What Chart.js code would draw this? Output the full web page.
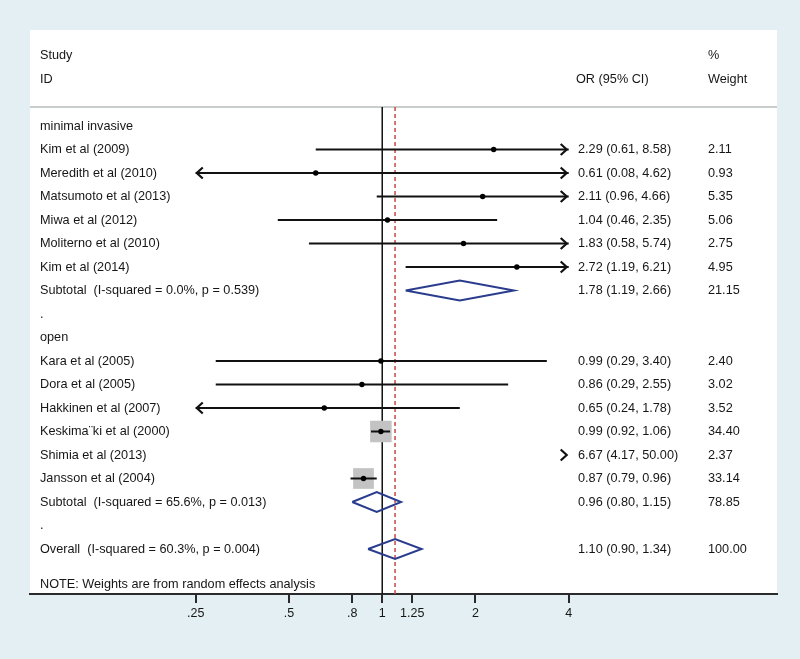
<!DOCTYPE html>
<html><head><meta charset="utf-8">
<script src="https://cdn.jsdelivr.net/npm/chart.js@4/dist/chart.umd.min.js"></script>
<style>html,body{margin:0;padding:0;background:#e3eff3;overflow:hidden}#wrap{width:800px;height:659px;position:relative}</style>
</head><body><div id="wrap"><canvas id="c" width="800" height="659"></canvas></div>
<script>
// ---------- data ----------
const rowLabels = [
  'minimal invasive',
  'Kim et al (2009)',
  'Meredith et al (2010)',
  'Matsumoto et al (2013)',
  'Miwa et al (2012)',
  'Moliterno et al (2010)',
  'Kim et al (2014)',
  'Subtotal  (I-squared = 0.0%, p = 0.539)',
  '.',
  'open',
  'Kara et al (2005)',
  'Dora et al (2005)',
  'Hakkinen et al (2007)',
  'Keskima\u00A8ki et al (2000)',
  'Shimia et al (2013)',
  'Jansson et al (2004)',
  'Subtotal  (I-squared = 65.6%, p = 0.013)',
  '.',
  'Overall  (I-squared = 60.3%, p = 0.004)'
];
const studyRows   = [1, 2, 3, 4, 5, 6, 10, 11, 12, 13, 14, 15];
const studyOR     = [2.29, 0.61, 2.11, 1.04, 1.83, 2.72, 0.99, 0.86, 0.65, 0.99, 6.67, 0.87];
const studyLo     = [0.61, 0.08, 0.96, 0.46, 0.58, 1.19, 0.29, 0.29, 0.24, 0.92, 4.17, 0.79];
const studyHi     = [8.58, 4.62, 4.66, 2.35, 5.74, 6.21, 3.40, 2.55, 1.78, 1.06, 50.00, 0.96];
const studyWeight = [2.11, 0.93, 5.35, 5.06, 2.75, 4.95, 2.40, 3.02, 3.52, 34.40, 2.37, 33.14];
const poolRows    = [7, 16, 18];
const poolOR      = [1.78, 0.96, 1.10];
const poolLo      = [1.19, 0.80, 0.90];
const poolHi      = [2.66, 1.15, 1.34];
const poolWeight  = [21.15, 78.85, 100.00];
const tickValues  = [0.25, 0.5, 0.8, 1, 1.25, 2, 4];
const tickLabels  = ['.25', '.5', '.8', '1', '1.25', '2', '4'];
const noteText    = 'NOTE: Weights are from random effects analysis';

// ---------- layout / style constants ----------
const X_MIN = 0.0729, X_MAX = 18.82;
const Y_MIN = -4.085, Y_MAX = 19.915;
const CI_LO = tickValues[0], CI_HI = tickValues[tickValues.length - 1];
const HEADER_RULE = -0.81;
const NOTE_ROW = 19.5;
const DIAMOND_H = 0.42;
const FONT = '12.7px "Liberation Sans", Arial, sans-serif';
const TEXT = '#161616';
const COL_LABEL = 40, COL_STATS = 578, COL_WEIGHT = 708, COL_OR_HEAD = 576;
const BG = '#e3eff3';
const LINE = '#111';
const NAVY = '#2a3c8e';
const RED = '#c44a40';
const MAX_BOX = 21.5;
const maxW = Math.max(...studyWeight);

const clamp = v => Math.min(CI_HI, Math.max(CI_LO, v));
const inRange = v => v >= CI_LO && v <= CI_HI;
const fmt = v => v.toFixed(2);

const datasets = [];
datasets.push({data: [{x: 1, y: HEADER_RULE}, {x: 1, y: Y_MAX}], showLine: true,
  borderColor: LINE, borderWidth: 1.5, pointRadius: 0, order: 10});
datasets.push({data: [{x: poolOR[2], y: HEADER_RULE}, {x: poolOR[2], y: Y_MAX}], showLine: true,
  borderColor: RED, borderDash: [4, 3], borderWidth: 1.5, pointRadius: 0, order: 9});
const boxData = [];
studyRows.forEach((r, i) => { if (inRange(studyOR[i])) boxData.push({x: studyOR[i], y: r, w: studyWeight[i]}); });
datasets.push({data: boxData, pointStyle: 'rect', backgroundColor: '#c3c3c3', borderWidth: 0,
  pointRadius: c => (MAX_BOX * c.raw.w / maxW) / Math.SQRT2, order: 8});
studyRows.forEach((r, i) => {
  const a = clamp(studyLo[i]), b = clamp(studyHi[i]);
  if (b > a) datasets.push({data: [{x: a, y: r}, {x: b, y: r}], showLine: true,
    borderColor: LINE, borderWidth: 2, pointRadius: 0, order: 7});
});
poolRows.forEach((r, i) => {
  datasets.push({data: [
    {x: poolLo[i], y: r}, {x: poolOR[i], y: r - DIAMOND_H}, {x: poolHi[i], y: r},
    {x: poolOR[i], y: r + DIAMOND_H}, {x: poolLo[i], y: r}],
    showLine: true, borderColor: NAVY, borderWidth: 2, pointRadius: 0, fill: false, order: 6});
});
const dotData = [];
studyRows.forEach((r, i) => { if (inRange(studyOR[i])) dotData.push({x: studyOR[i], y: r}); });
datasets.push({data: dotData, pointStyle: 'circle', backgroundColor: '#000', borderWidth: 0,
  pointRadius: 2.7, order: 1});

const panelPlugin = {
  id: 'panel',
  beforeDraw(chart) {
    const {ctx, chartArea: a, scales: {y}} = chart;
    ctx.save();
    ctx.fillStyle = BG;
    ctx.fillRect(0, 0, chart.width, chart.height);
    ctx.fillStyle = '#fff';
    ctx.fillRect(a.left, a.top, a.right - a.left, a.bottom - a.top);
    const hy = y.getPixelForValue(HEADER_RULE);
    ctx.strokeStyle = '#b8bcbe';
    ctx.lineWidth = 1.5;
    ctx.beginPath(); ctx.moveTo(a.left, hy); ctx.lineTo(a.right, hy); ctx.stroke();
    ctx.restore();
  }
};

const arrowPlugin = {
  id: 'arrows',
  afterDatasetsDraw(chart) {
    const {ctx, scales: {x, y}} = chart;
    ctx.save();
    ctx.strokeStyle = LINE; ctx.lineWidth = 2.2; ctx.lineJoin = 'miter';
    const chev = (px, py, dir) => {
      ctx.beginPath();
      ctx.moveTo(px - dir * 6, py - 5.5);
      ctx.lineTo(px, py);
      ctx.lineTo(px - dir * 6, py + 5.5);
      ctx.stroke();
    };
    studyRows.forEach((r, i) => {
      const py = y.getPixelForValue(r);
      if (studyLo[i] < CI_LO) chev(x.getPixelForValue(CI_LO) + 1, py, -1);
      if (studyHi[i] > CI_HI) chev(x.getPixelForValue(CI_HI) - 2, py, 1);
    });
    ctx.restore();
  }
};

const textPlugin = {
  id: 'texts',
  afterDraw(chart) {
    const {ctx, scales: {y}} = chart;
    ctx.save();
    ctx.font = FONT; ctx.fillStyle = TEXT; ctx.textBaseline = 'middle'; ctx.textAlign = 'left';
    const Y = v => y.getPixelForValue(v);
    ctx.fillText('Study', COL_LABEL, Y(-3));
    ctx.fillText('ID', COL_LABEL, Y(-2));
    ctx.fillText('OR (95% CI)', COL_OR_HEAD, Y(-2));
    ctx.fillText('%', COL_WEIGHT, Y(-3));
    ctx.fillText('Weight', COL_WEIGHT, Y(-2));
    rowLabels.forEach((t, r) => ctx.fillText(t, COL_LABEL, Y(r)));
    studyRows.forEach((r, i) => {
      ctx.fillText(fmt(studyOR[i]) + ' (' + fmt(studyLo[i]) + ', ' + fmt(studyHi[i]) + ')', COL_STATS, Y(r));
      ctx.fillText(fmt(studyWeight[i]), COL_WEIGHT, Y(r));
    });
    poolRows.forEach((r, i) => {
      ctx.fillText(fmt(poolOR[i]) + ' (' + fmt(poolLo[i]) + ', ' + fmt(poolHi[i]) + ')', COL_STATS, Y(r));
      ctx.fillText(fmt(poolWeight[i]), COL_WEIGHT, Y(r));
    });
    ctx.fillText(noteText, COL_LABEL, Y(NOTE_ROW));
    ctx.restore();
  }
};

new Chart(document.getElementById('c'), {
  type: 'scatter',
  data: {datasets},
  options: {
    responsive: false,
    animation: false,
    events: [],
    layout: {padding: {left: 30, right: 23, top: 30, bottom: 35}},
    plugins: {legend: {display: false}, tooltip: {enabled: false}},
    scales: {
      x: {
        type: 'logarithmic', min: X_MIN, max: X_MAX, bounds: 'data',
        afterBuildTicks: s => { s.ticks = tickValues.map(v => ({value: v})); },
        ticks: {
          autoSkip: false, maxRotation: 0, padding: 3, color: TEXT,
          font: {family: '"Liberation Sans", Arial, sans-serif', size: 12.5},
          callback: v => tickLabels[tickValues.indexOf(v)]
        },
        grid: {display: true, drawOnChartArea: false, drawTicks: true, tickLength: 9, color: '#2a2a2a', lineWidth: 2},
        border: {display: true, color: '#2a2a2a', width: 2}
      },
      y: {type: 'linear', display: false, reverse: true, min: Y_MIN, max: Y_MAX, bounds: 'data'}
    }
  },
  plugins: [panelPlugin, arrowPlugin, textPlugin]
});
</script></body></html>
